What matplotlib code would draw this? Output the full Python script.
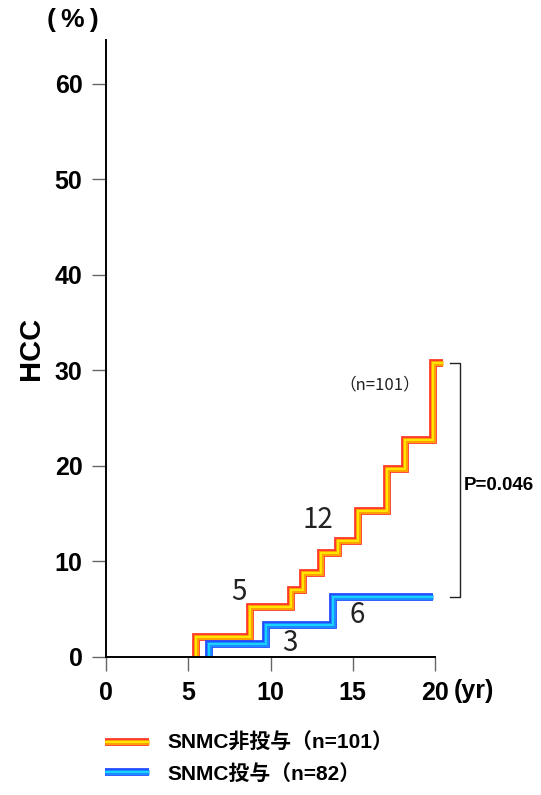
import matplotlib
matplotlib.use('Agg')
import matplotlib.pyplot as plt
from matplotlib.legend_handler import HandlerTuple

plt.rcParams['font.family'] = ['Liberation Sans', 'Noto Sans CJK JP', 'DejaVu Sans']

# SNMC non-treated (n=101), cumulative HCC incidence (%)
t_non = [5.5, 5.5, 8.75, 11.25, 12.0, 13.1, 14.1, 15.3, 17.1, 18.2, 19.9, 20.5]
y_non = [0, 2.1, 5.2, 7.0, 8.8, 10.9, 12.1, 15.3, 19.7, 22.7, 30.8, 30.8]

# SNMC treated (n=82)
t_trt = [6.25, 6.25, 9.7, 13.8, 19.9]
y_trt = [0, 1.4, 3.35, 6.3, 6.3]

# numbers of events written beside the curves
ev_labels = ['5', '12', '3', '6']
ev_x = [8.1, 12.9, 11.2, 15.3]
ev_y = [6.8, 14.3, 1.5, 4.4]

yticks = [0, 10, 20, 30, 40, 50, 60]
xticks = [0, 5, 10, 15, 20]

fig = plt.figure(figsize=(5.41, 7.95), dpi=100)
ax = fig.add_axes([106 / 541, 138 / 795, 329 / 541, 617 / 795])
ax.set_xlim(0, 20)
ax.set_ylim(0, 64.6)

def layered(x, y, colors, widths):
    hs = []
    for c, w in zip(colors, widths):
        h, = ax.plot(x, y, drawstyle='steps-post', color=c, lw=w,
                     solid_capstyle='butt', solid_joinstyle='miter', clip_on=False)
        hs.append(h)
    return tuple(hs)

widths = [5.6, 3.6, 1.4]
h_non = layered(t_non, y_non, ['#ff3a2a', '#ffa000', '#ffe800'], widths)
h_trt = layered(t_trt, y_trt, ['#1f4dff', '#1a8cff', '#19d4ff'], widths)

for s, x, y in zip(ev_labels, ev_x, ev_y):
    ax.text(x, y, s, fontsize=20, color='#222222', ha='center', va='center',
            family=['Noto Sans CJK JP', 'DejaVu Sans'])

ax.text(16.66, 28.5, '（n=101）', fontsize=12, color='#222222', ha='center', va='center',
        family=['Noto Sans CJK JP', 'DejaVu Sans'])

# p-value bracket
ax.plot([20.9, 21.5, 21.5, 20.9], [30.8, 30.8, 6.3, 6.3], color='#222222', lw=1.0, clip_on=False)
ax.text(21.75, 18.0, 'P=0.046', fontsize=13.5, fontweight='bold', ha='left', va='center')

ax.spines['top'].set_visible(False)
ax.spines['right'].set_visible(False)
ax.spines['left'].set_linewidth(1.4)
ax.spines['bottom'].set_linewidth(1.4)

ax.set_xticks(xticks)
ax.set_yticks(yticks)
ax.tick_params(axis='both', direction='out', length=10, width=1.0, color='#666666',
               labelsize=18, pad=7)
for lab in ax.get_xticklabels() + ax.get_yticklabels():
    lab.set_fontweight('bold')

ax.set_ylabel('HCC', fontsize=21, fontweight='bold', labelpad=7)
ax.text(-2.0, 1.032, '(\u2009%\u2009)', transform=ax.get_xaxis_transform(), fontsize=19,
        fontweight='bold', ha='center', va='center', clip_on=False,
        family=['Liberation Sans', 'DejaVu Sans'])
ax.text(21.15, -0.055, '(yr)', transform=ax.get_xaxis_transform(), fontsize=18,
        fontweight='bold', ha='left', va='center', clip_on=False)

leg = fig.legend([h_non, h_trt], ['SNMC非投与（n=101）', 'SNMC投与（n=82）'],
                 handler_map={tuple: HandlerTuple(ndivide=1)},
                 loc='upper left', bbox_to_anchor=(105 / 541, 1 - 733 / 795),
                 frameon=False, borderpad=0, borderaxespad=0, handlelength=2.1,
                 handletextpad=0.9, labelspacing=0.5,
                 prop={'size': 15, 'weight': 'bold',
                       'family': ['Liberation Sans', 'Noto Sans CJK JP']})

fig.savefig('out.png', dpi=100)
